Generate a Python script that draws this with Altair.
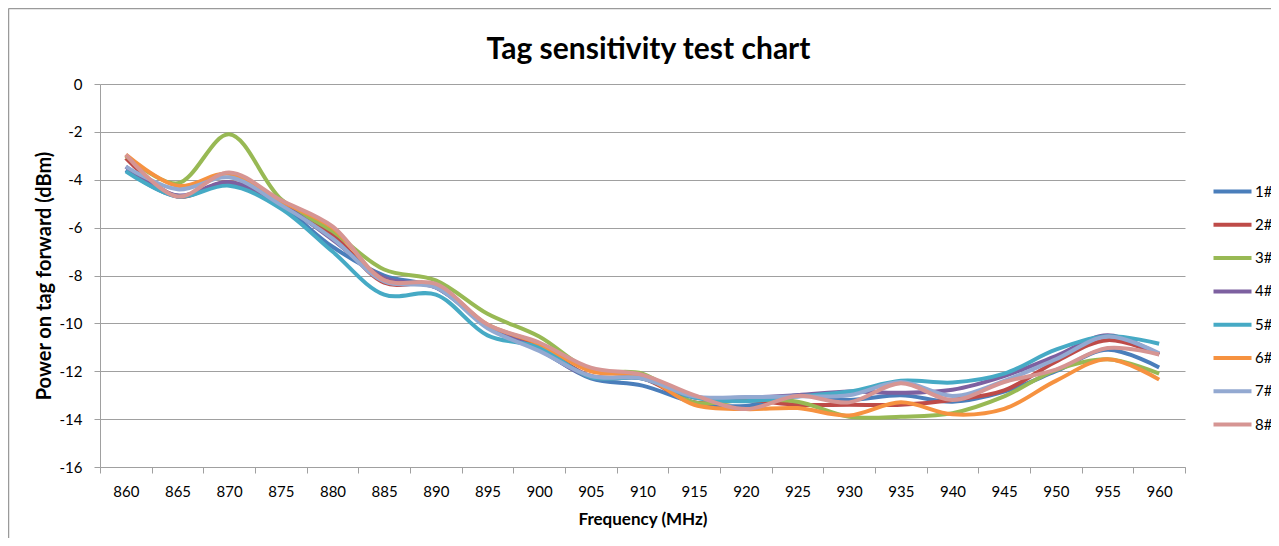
import altair as alt
import pandas as pd

freqs = list(range(860, 961, 5))
series_names = ["1#", "2#", "3#", "4#", "5#", "6#", "7#", "8#"]

s1 = [-3.6, -4.7, -4.15, -5.1, -6.8, -8.0, -8.5, -10.1, -11.1, -12.3, -12.6, -13.3, -13.45, -13.0, -13.2, -13.0, -13.27, -12.85, -12.0, -11.1, -11.84]
s2 = [-3.1, -4.7, -4.1, -5.0, -6.3, -8.3, -8.4, -10.1, -10.95, -12.2, -12.3, -13.3, -13.2, -13.4, -13.4, -13.4, -13.2, -12.8, -11.6, -10.7, -11.3]
s3 = [-3.0, -4.15, -2.1, -4.8, -6.15, -7.75, -8.2, -9.6, -10.55, -11.95, -12.1, -13.3, -13.2, -13.27, -13.9, -13.9, -13.75, -13.05, -11.95, -11.5, -12.1]
s4 = [-3.45, -4.65, -4.1, -5.0, -6.5, -8.1, -8.5, -10.1, -11.1, -12.25, -12.3, -13.1, -13.1, -13.0, -12.85, -12.9, -12.77, -12.2, -11.37, -10.5, -11.3]
s5 = [-3.65, -4.7, -4.25, -5.2, -7.0, -8.8, -8.8, -10.5, -11.0, -12.25, -12.3, -13.1, -13.25, -13.05, -12.85, -12.4, -12.47, -12.1, -11.1, -10.54, -10.85]
s6 = [-2.95, -4.25, -3.75, -4.9, -6.0, -8.2, -8.4, -10.05, -10.85, -12.0, -12.2, -13.4, -13.58, -13.54, -13.85, -13.3, -13.8, -13.57, -12.4, -11.5, -12.35]
s7 = [-3.45, -4.4, -3.9, -5.05, -6.45, -8.25, -8.5, -10.2, -11.15, -12.2, -12.3, -13.05, -13.08, -13.05, -13.0, -12.45, -13.03, -12.4, -11.5, -10.55, -11.25]
s8 = [-2.95, -4.7, -3.7, -4.85, -5.95, -8.2, -8.35, -10.05, -10.8, -11.85, -12.15, -13.0, -13.58, -13.03, -13.3, -12.5, -13.2, -12.45, -11.93, -11.03, -11.3]

colors = ["#4A7EBB", "#BE4B48", "#98B954", "#7D60A0", "#46AAC5", "#F69240", "#93A9D1", "#D69593"]

y_ticks = list(range(-16, 1, 2))

rows = []
for name, vals in zip(series_names, [s1, s2, s3, s4, s5, s6, s7, s8]):
    for f, v in zip(freqs, vals):
        rows.append({"freq": f, "power": v, "tag": name})
df = pd.DataFrame(rows)

FONT = "Lato"
GREY = "#A0A0A0"

lines = alt.Chart(df).mark_line(interpolate="catmull-rom", strokeWidth=4).encode(
    x=alt.X(
        "freq:O",
        bandPosition=0.5,
        scale=alt.Scale(type="band", paddingInner=0, paddingOuter=0),
        axis=alt.Axis(
            title="Frequency (MHz)", labelAngle=0, tickBand="extent",
            tickSize=6, labelPadding=11, titlePadding=12, titleFontSize=17,
            domainColor=GREY, tickColor=GREY, grid=False,
        ),
    ),
    y=alt.Y(
        "power:Q",
        scale=alt.Scale(domain=[-16, 0], nice=False, zero=False),
        axis=alt.Axis(
            title="Power on tag forward (dBm)", values=y_ticks,
            labelExpr="datum.value + ''",
            tickSize=6, labelPadding=12, titlePadding=5, titleFontSize=20,
            domainColor=GREY, tickColor=GREY, grid=True, gridColor=GREY,
        ),
    ),
    color=alt.Color(
        "tag:N",
        scale=alt.Scale(domain=series_names, range=colors),
        legend=alt.Legend(
            title=None, orient="none", legendX=1121, legendY=96,
            symbolType="M-2,0H2", symbolSize=361, symbolStrokeWidth=4,
            labelOffset=11, rowPadding=13.3, padding=0,
            labelFont=FONT, labelFontSize=15, labelColor="#000000",
        ),
    ),
)

frame_src = pd.DataFrame({"k": [0]})
left_edge = alt.Chart(frame_src).mark_rule(color="#9A9A9A", strokeWidth=1.5).encode(
    x=alt.value(-91.5), y=alt.value(-75.5), y2=alt.value(480)
)
top_edge = alt.Chart(frame_src).mark_rule(color="#9A9A9A", strokeWidth=1.5).encode(
    x=alt.value(-91.5), x2=alt.value(1200), y=alt.value(-75.5)
)

chart = alt.layer(lines, left_edge, top_edge).properties(
    width=1085,
    height=383,
    title=alt.TitleParams(
        "Tag sensitivity test chart", font=FONT, fontSize=30, fontWeight="bold",
        color="#000000", anchor="middle", frame="group", baseline="alphabetic",
        offset=31, dx=6, dy=112.5,
    ),
    autosize=alt.AutoSizeParams(type="none"),
    padding={"left": 92, "top": 76, "right": 86, "bottom": 71},
).configure_axis(
    labelFont=FONT, labelFontSize=15, labelColor="#000000",
    titleFont=FONT, titleFontWeight="bold", titleColor="#000000",
    domainWidth=1, tickWidth=1, gridWidth=1,
).configure_view(stroke=None)

chart.save("out.html", embed_options={"renderer": "svg", "actions": False})
